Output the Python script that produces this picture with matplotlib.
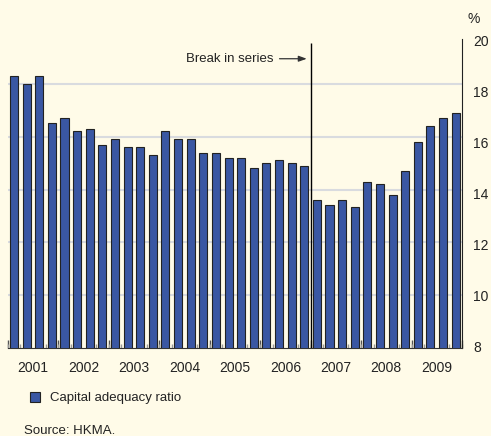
"""
Capital adequacy ratio of Hong Kong banks, quarterly 2001-2009 (bar chart).
"""
import numpy as np
import matplotlib
matplotlib.use("Agg")
import matplotlib.pyplot as plt
import matplotlib.transforms as mtransforms

# DATA
years = ['2001', '2002', '2003', '2004', '2005', '2006', '2007', '2008', '2009']
quarters_per_year = 4
car = [18.3, 18.0, 18.3, 16.5, 16.7, 16.2, 16.3, 15.7,
       15.9, 15.6, 15.6, 15.3, 16.2, 15.9, 15.9, 15.4,
       15.4, 15.2, 15.2, 14.8, 15.0, 15.1, 15.0, 14.9,
       13.6, 13.4, 13.6, 13.35, 14.3, 14.2, 13.8, 14.7,
       15.8, 16.4, 16.7, 16.9]
yticks = [8, 10, 12, 14, 16, 18, 20]
break_pos = 23.5   # between 2006 Q4 and 2007 Q1

# STYLE
BG = '#fffbe8'
BAR = '#3a57a3'
GRID = '#d9dbdf'
TXT = '#222222'
plt.rcParams['font.family'] = ['Liberation Sans', 'DejaVu Sans']

fig = plt.figure(figsize=(4.91, 4.36), dpi=100, facecolor=BG)
ax = fig.add_axes([7.7 / 491, 1 - 348 / 436, 454.3 / 491, 317 / 436])
ax.set_facecolor(BG)

x = np.arange(len(car))
ax.bar(x, car, width=0.64, color=BAR, edgecolor='#222222', linewidth=0.8, zorder=3)

ax.set_xlim(-0.5, len(car) - 0.5)
ax.set_ylim(8, 20)

# y axis on the right (labels sit a little below their gridlines, as in the print)
ax.set_yticks(yticks, labels=[])
ax.tick_params(axis='y', left=False, right=False, length=0)
for v in yticks[1:-1]:
    ax.axhline(v, color=GRID, lw=1.5, zorder=1)
ylab_tr = ax.get_yaxis_transform()
for v in yticks:
    off = mtransforms.ScaledTranslation(8 / 72, -(v - 8) * 0.65 / 72, fig.dpi_scale_trans)
    ax.text(1, v, str(v), transform=ylab_tr + off, ha='left', va='center',
            fontsize=10, color=TXT)

# x axis: year labels centred, ticks on quarter / year boundaries
n_years = len(years)
centers = np.arange(n_years) * quarters_per_year + (quarters_per_year - 1) / 2
ax.set_xticks(centers, labels=years)
ax.set_xticks(np.arange(-0.5, len(car)), minor=True)
ax.tick_params(axis='x', which='major', length=0, pad=9, labelsize=10, labelcolor=TXT)
ax.tick_params(axis='x', which='minor', length=3, direction='in', color='#999999', width=1)
sec = ax.secondary_xaxis('bottom')
sec.set_xticks(np.arange(-0.5, len(car) + 1, quarters_per_year), labels=[])
sec.tick_params(length=6, direction='in', color='#555555', width=1)
sec.spines['bottom'].set_visible(False)

for s in ['top', 'left']:
    ax.spines[s].set_visible(False)
ax.spines['bottom'].set_color('#333333')
ax.spines['right'].set_color('#222222')
ax.spines['right'].set_bounds(8, 19.7)

# break in series
ax.vlines(break_pos, 8, 19.55, color='black', lw=1, zorder=4)
ax.annotate('Break in series', xy=(break_pos - 0.3, 18.95), xytext=(20.6, 18.95),
            ha='right', va='center', fontsize=9.5, color=TXT,
            arrowprops=dict(arrowstyle='-|>,head_length=0.5,head_width=0.18',
                            color='#333333', lw=0.9, shrinkA=2, shrinkB=0))

fig.text(468 / 491, 1 - 19 / 436, '%', fontsize=10, color=TXT, va='center')

handle = plt.Rectangle((0, 0), 1, 1, facecolor=BAR, edgecolor='#222222', linewidth=0.8)
fig.legend([handle], ['Capital adequacy ratio'], loc='center left',
           bbox_to_anchor=(18 / 491, 1 - 398 / 436), frameon=False,
           handlelength=0.8, handleheight=0.8, handletextpad=0.7,
           fontsize=9.5, labelcolor=TXT)
fig.text(24 / 491, 1 - 431 / 436, 'Source: HKMA.', fontsize=9.5, color=TXT, va='center')

fig.savefig('out.png', dpi=100, facecolor=BG)
